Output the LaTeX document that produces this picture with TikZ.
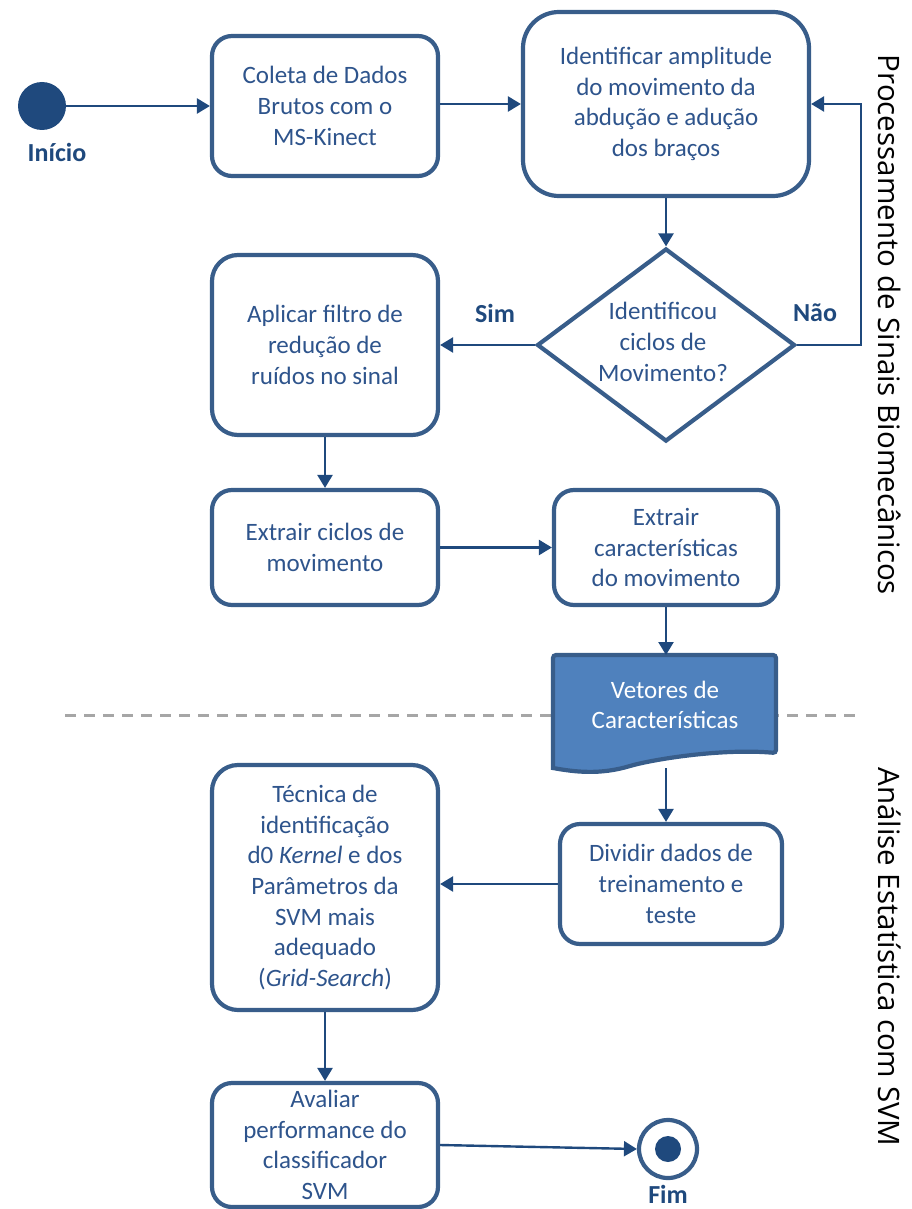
\documentclass[tikz,border=0pt]{standalone}
\usepackage{fontspec}
\setmainfont{Carlito}
\newfontfamily\sidefont{Open Sans}
\usetikzlibrary{arrows.meta,shapes.geometric}
\definecolor{bordc}{RGB}{56,93,138}
\definecolor{txtc}{RGB}{46,84,140}
\definecolor{arrc}{RGB}{31,73,125}
\definecolor{docfill}{RGB}{79,129,189}
\definecolor{dashc}{RGB}{166,166,166}
\begin{document}
\begin{tikzpicture}[x=1pt,y=-1pt,
  every node/.style={font=\fontsize{25}{30.7}\selectfont, text=txtc},
  stepbox/.style={draw=bordc, line width=4.2pt, rounded corners=20pt, fill=white, align=center, inner sep=4pt},
  conn/.style={draw=arrc, line width=2.4pt, -{Triangle[length=13pt,width=15pt]}},
  lbl/.style={font=\fontsize{26}{30}\selectfont\bfseries, text=arrc},
  side/.style={font=\sidefont\fontsize{29.5}{34}\selectfont, text=black, rotate=-90}
]
\useasboundingbox (0,0) rectangle (911,1209);

% separator
\draw[dashc, line width=3pt, dash pattern=on 11pt off 8pt] (65,715) -- (860,715);

% start
\node[circle, fill=arrc, minimum size=48pt, inner sep=0] (start) at (42,106) {};
\node[lbl] (startl) at (57,152) {Início};

% boxes
\node[stepbox, minimum width=226pt, minimum height=140pt] (b1) at (325,106) {Coleta de Dados\\Brutos com o\\MS-Kinect};
\node[stepbox, minimum width=286pt, minimum height=184pt, rounded corners=36pt] (b2) at (666,104) {Identificar amplitude\\do movimento da\\abdução e adução\\dos braços};
\node[draw=bordc, line width=4.2pt, diamond, minimum width=258pt, minimum height=193pt, inner sep=0, fill=white] (d) at (666,345) {};
\node[align=center] at (663,342) (dt) {Identificou\\ciclos de\\Movimento?};
\node[stepbox, minimum width=226pt, minimum height=180pt, rounded corners=26pt] (b3) at (325,345) {Aplicar filtro de\\redução de\\ruídos no sinal};
\node[stepbox, minimum width=226pt, minimum height=115pt] (b4) at (325,547.5) {Extrair ciclos de\\movimento};
\node[stepbox, minimum width=224pt, minimum height=115pt] (b5) at (666,547.5) {Extrair\\características\\do movimento};
\node[stepbox, minimum width=222pt, minimum height=120pt] (b6) at (671,884) {Dividir dados de\\treinamento e\\teste};
\node[stepbox, minimum width=226pt, minimum height=245pt, rounded corners=26pt] (b7) at (325,887.5) {Técnica de\\identificação\\d0 \textit{Kernel} e dos\\Parâmetros da\\SVM mais\\adequado\\(\textit{Grid-Search})};
\node[stepbox, minimum width=226pt, minimum height=124pt] (b8) at (325,1145) {Avaliar\\performance do\\classificador\\SVM};

% document shape
\fill[docfill] (553,659) [rounded corners=3pt] -- (553,655) -- (776,655) -- (776,753) [sharp corners]
  .. controls (720,748) and (650,760) .. (630,766) .. controls (600,775) and (575,772) .. (553,768) -- cycle;
\draw[bordc, line width=4.2pt, rounded corners=3pt] (553,710) -- (553,655) -- (776,655) -- (776,753)
  [sharp corners] .. controls (720,748) and (650,760) .. (630,766) .. controls (600,775) and (575,772) .. (553,768) -- (553,705);
\node[text=white, align=center] (doc) at (665,705) {Vetores de\\Características};
\coordinate (doctop) at (666,655);
\coordinate (docbot) at (666,768);

% end
\node[circle, draw=bordc, line width=4.2pt, fill=white, minimum size=58pt, inner sep=0] (fim) at (668,1149) {};
\node[circle, fill=arrc, minimum size=26pt, inner sep=0] (fimc) at (668,1149) {};
\node[lbl] (fiml) at (668,1194) {Fim};

% connectors
\draw[conn] (start.east) -- (b1.west);
\draw[conn] (b1.east |- 0,104) -- (b2.west |- 0,104);
\draw[conn] (b2.south) -- (d.north);
\draw[conn] (d.west) -- (b3.east |- d.west);
\draw[conn] (d.east) -- (861,345) -- (861,104) -- (b2.east |- 0,104);
\draw[conn] (b3.south) -- (b4.north);
\draw[conn] (b4.east) -- (b5.west);
\draw[conn] (b5.south) -- (doctop);
\draw[conn] (docbot) -- (b6.north -| docbot);
\draw[conn] (b6.west) -- (b7.east |- b6.west);
\draw[conn] (b7.south) -- (b8.north);
\draw[conn] (b8.east) -- (fim.west);

\node[lbl] (sim) at (495,313) {Sim};
\node[lbl] (nao) at (815,313) {Não};

% side labels
\node[side] (s1) at (890,325) {Processamento de Sinais Biomecânicos};
\node[side] (s2) at (890,957) {Análise Estatística com SVM};
\end{tikzpicture}
\end{document}
